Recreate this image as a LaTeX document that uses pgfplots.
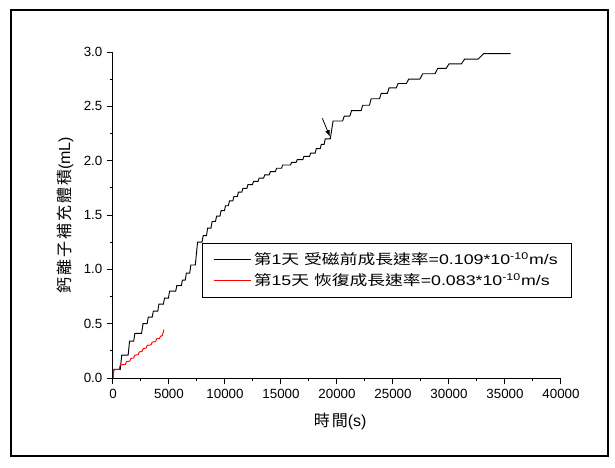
\documentclass[border=0pt]{standalone}
\usepackage{graphicx}
\usepackage{pgfplots}
\pgfplotsset{compat=1.18}
\usetikzlibrary{arrows.meta}
\usepackage{fontspec}
\setmainfont{Liberation Sans}
\newfontfamily\cjk{Noto Sans CJK TC}
\newfontfamily\cjksp{Noto Sans CJK TC}[LetterSpace=12]
\newcommand{\C}[1]{{\cjk #1}}
\begin{document}
\begin{tikzpicture}
\path[use as bounding box] (-84.75pt,-67.5pt) rectangle (376.5pt,283.5pt);
\draw[line width=1.5pt] (-76.5pt,-58.5pt) rectangle (371.25pt,276pt);
\begin{axis}[
  at={(0,0)}, anchor=south west,
  scale only axis, width=336pt, height=244.5pt,
  xmin=0, xmax=40000, ymin=0, ymax=3,
  enlargelimits=false,
  axis lines=left, axis line style={-, line width=0.75pt},
  xtick={0,5000,...,40000}, ytick={0,0.5,...,3},
  minor x tick num=1, minor y tick num=1,
  tick align=outside, major tick length=4.5pt, minor tick length=2.5pt,
  tick style={line width=0.75pt, black},
  scaled ticks=false,
  /pgf/number format/assume math mode=true,
  xticklabel style={/pgf/number format/set thousands separator={}, font=\fontsize{10}{12}\selectfont},
  yticklabel style={/pgf/number format/fixed, /pgf/number format/fixed zerofill, /pgf/number format/precision=1, font=\fontsize{10}{12}\selectfont},
  xlabel={{\cjksp 時間}(s)},
  ylabel={{\cjksp 鈣離子補充體積}(mL)},
  xlabel style={at={(axis description cs:0.507,-0.132)}, anchor=center, font=\fontsize{12}{14}\selectfont},
  ylabel style={at={(axis description cs:-0.107,0.5)}, anchor=center, font=\fontsize{12}{14}\selectfont},
  legend style={at={(axis description cs:0.199,0.414)}, anchor=north west, draw=black, line width=0.6pt,
    inner xsep=8pt, inner ysep=5pt, row sep=1pt, font=\fontsize{10.5}{12}\selectfont, cells={anchor=west}},
  legend image code/.code={\draw[#1] (0pt,0pt) -- (27.75pt,0pt);},
]
\addplot[black, line width=0.7pt] coordinates {
(0,0)(80,0.08)(650,0.08)(780,0.21)(1350,0.21)(1480,0.34)(1850,0.34)(1950,0.41)(2550,0.41)(2680,0.50)(3050,0.50)(3150,0.56)(3500,0.56)(3600,0.615)(4000,0.615)(4100,0.68)(4500,0.68)(4600,0.735)(4950,0.735)(5050,0.80)(5600,0.80)(5700,0.85)(6100,0.85)(6200,0.90)(6450,0.90)(6550,0.965)(6850,0.965)(6950,1.04)(7350,1.04)(7550,1.25)(7950,1.25)(8050,1.31)(8350,1.31)(8450,1.38)(8750,1.38)(8850,1.44)(9150,1.44)(9250,1.49)(9550,1.49)(9650,1.54)(9950,1.54)(10050,1.585)(10300,1.585)(10400,1.63)(10700,1.63)(10800,1.67)(11100,1.67)(11200,1.71)(11500,1.71)(11600,1.745)(11950,1.745)(12050,1.78)(12450,1.78)(12550,1.81)(12950,1.81)(13050,1.84)(13450,1.84)(13550,1.87)(13950,1.87)(14050,1.90)(14500,1.90)(14600,1.93)(15050,1.93)(15150,1.96)(15850,1.96)(15950,1.985)(16350,1.985)(16450,2.01)(16950,2.01)(17050,2.04)(17550,2.04)(17650,2.07)(18050,2.07)(18150,2.11)(18500,2.11)(18600,2.15)(18850,2.15)(18950,2.20)(19400,2.20)(19650,2.365)(20500,2.365)(20650,2.41)(21150,2.41)(21300,2.46)(22150,2.46)(22300,2.51)(22900,2.51)(23050,2.57)(23800,2.57)(23950,2.62)(24500,2.62)(24650,2.67)(25300,2.67)(25450,2.71)(26200,2.71)(26400,2.75)(27400,2.75)(27650,2.80)(28750,2.80)(29000,2.85)(29750,2.85)(30000,2.89)(31100,2.89)(31400,2.935)(32600,2.935)(33100,2.985)(35500,2.985)
};
\addlegendentry{\scalebox{1.27}[1]{\C{第}1\C{天} \C{受磁前成長速率}=0.109*10\textsuperscript{-10}m/s}}
\addplot[red, line width=0.7pt] coordinates {
(0,0)(60,0.075)(550,0.08)(650,0.12)(1100,0.125)(1200,0.15)(1500,0.155)(1600,0.18)(1850,0.185)(1950,0.21)(2250,0.215)(2350,0.24)(2600,0.245)(2700,0.27)(2950,0.275)(3050,0.30)(3400,0.305)(3500,0.33)(3800,0.335)(3900,0.36)(4150,0.365)(4250,0.385)(4400,0.39)(4450,0.41)(4500,0.42)(4520,0.445)
};
\addlegendentry{\scalebox{1.27}[1]{\C{第}15\C{天} \C{恢復成長速率}=0.083*10\textsuperscript{-10}m/s}}
\draw[-{Latex[length=5pt,width=3.5pt]}, line width=0.6pt] (axis cs:18690,2.39) -- (axis cs:19375,2.22);
\end{axis}
\end{tikzpicture}
\end{document}
